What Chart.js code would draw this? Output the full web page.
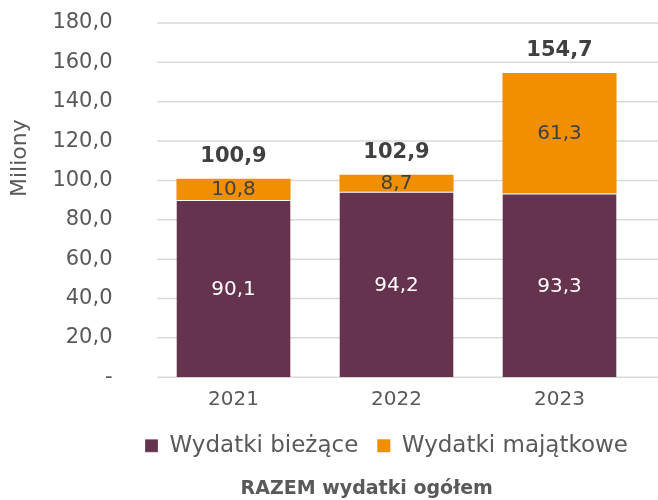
<!DOCTYPE html>
<html><head><meta charset="utf-8">
<script src="https://cdn.jsdelivr.net/npm/chart.js@4/dist/chart.umd.min.js"></script>
<style>html,body{margin:0;padding:0;background:#fff}#wrap{width:658px;height:500px}</style>
</head><body><div id="wrap"><canvas id="c" width="658" height="500"></canvas></div>
<script>
const categories = ['2021', '2022', '2023'];
const biezace = [90.1, 94.2, 93.3];
const majatkowe = [10.8, 8.7, 61.3];
const totals = [100.9, 102.9, 154.7];
const yTicks = [0, 20, 40, 60, 80, 100, 120, 140, 160, 180];

const fmt = v => v.toFixed(1).replace('.', ',');
const FONT = 'DejaVu Sans';
const GREY = '#595959';
const SP = '\u2002';

const gridPlugin = {
  id: 'extGrid',
  afterLayout(chart) {
    // legend in the reference is centred a little right of the canvas centre
    const lg = chart.legend;
    const shift = (chart.chartArea.left + chart.chartArea.right) / 2 - chart.width / 2 - 5;
    lg.left += shift;
    lg.right += shift;
  },
  beforeDatasetsDraw(chart) {
    const ctx = chart.ctx, y = chart.scales.y, a = chart.chartArea;
    ctx.save();
    ctx.strokeStyle = '#d9d9d9';
    ctx.lineWidth = 1.5;
    yTicks.forEach(v => {
      const py = y.getPixelForValue(v);
      ctx.beginPath();
      ctx.moveTo(a.left + 5, py);
      ctx.lineTo(chart.width, py);
      ctx.stroke();
    });
    ctx.restore();
  }
};

const labelPlugin = {
  id: 'labels',
  afterDatasetsDraw(chart) {
    const ctx = chart.ctx;
    ctx.save();
    ctx.textAlign = 'center';
    ctx.textBaseline = 'middle';
    chart.data.datasets.forEach((ds, i) => {
      const meta = chart.getDatasetMeta(i);
      meta.data.forEach((bar, j) => {
        const mid = (bar.y + bar.base) / 2;
        ctx.font = '20px "' + FONT + '"';
        ctx.fillStyle = i === 0 ? '#ffffff' : '#404040';
        ctx.fillText(fmt(ds.data[j]), bar.x, mid + 1);
      });
    });
    const top = chart.getDatasetMeta(1);
    top.data.forEach((bar, j) => {
      ctx.font = 'bold 21px "' + FONT + '"';
      ctx.fillStyle = '#404040';
      ctx.fillText(fmt(totals[j]), bar.x, bar.y - 22);
    });
    ctx.restore();
  }
};

new Chart(document.getElementById('c'), {
  type: 'bar',
  data: {
    labels: categories,
    datasets: [
      { label: 'Wydatki bieżące', data: biezace, backgroundColor: '#66334F', borderColor: '#ffffff', borderWidth: {top: 1}, borderSkipped: 'bottom' },
      { label: 'Wydatki majątkowe', data: majatkowe, backgroundColor: '#F09000', borderWidth: 0 }
    ]
  },
  options: {
    responsive: false,
    animation: false,
    devicePixelRatio: 1,
    layout: { padding: { left: 7, right: 17, top: 23, bottom: 0 } },
    datasets: { bar: { barPercentage: 0.7, categoryPercentage: 1 } },
    scales: {
      x: {
        stacked: true,
        grid: { display: false },
        border: { display: false },
        ticks: { color: GREY, font: { family: FONT, size: 20 }, padding: 3 }
      },
      y: {
        stacked: true,
        min: 0, max: 180,
        afterBuildTicks: s => { s.ticks = yTicks.map(v => ({ value: v })); },
        grid: { display: false },
        border: { display: false },
        ticks: {
          color: GREY, font: { family: FONT, size: 21 }, padding: 0,
          callback: v => (v === 0 ? '-' : fmt(v)) + SP + SP + SP
        },
        title: { display: true, text: SP.repeat(7) + ' Miliony', color: GREY, font: { family: FONT, size: 22 }, padding: { top: 0, bottom: 19 } }
      }
    },
    plugins: {
      legend: {
        position: 'bottom',
        labels: { color: GREY, font: { family: FONT, size: 23 }, boxWidth: 13, boxHeight: 13, padding: 19 }
      },
      title: {
        display: true, position: 'bottom', text: SP.repeat(9) + 'RAZEM wydatki ogółem',
        color: GREY, font: { family: FONT, size: 19, weight: 'bold' }, padding: { top: 10, bottom: 0 }
      },
      tooltip: { enabled: false }
    }
  },
  plugins: [gridPlugin, labelPlugin]
});
</script></body></html>
